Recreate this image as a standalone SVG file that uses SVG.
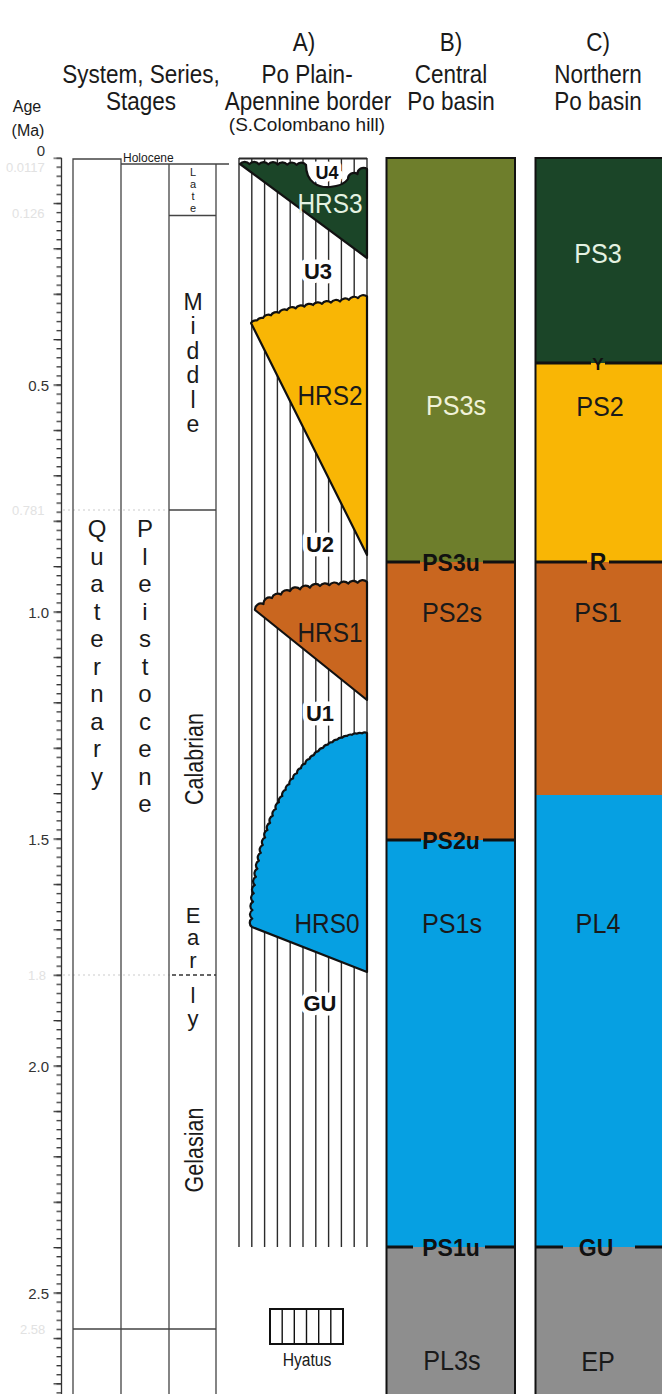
<svg xmlns="http://www.w3.org/2000/svg" width="662" height="1394" viewBox="0 0 662 1394">
<style>
text { font-family: 'Liberation Sans',Arial,sans-serif; fill:#1a1a1a; }
.hd { font-size:25px; text-anchor:middle; }
.ax { font-size:15px; fill:#333; text-anchor:end; }
.faint { font-size:13px; fill:#e2e2e2; }
.stk { font-size:24px; text-anchor:middle; }
.big { font-size:28px; text-anchor:middle; }
.lt { fill:#e4f2e2; }
.ul { font-size:22px; font-weight:bold; text-anchor:middle; fill:#111; paint-order:stroke; stroke:#fff; stroke-width:9px; stroke-linejoin:round; }
.bl { font-size:23px; font-weight:bold; text-anchor:middle; fill:#111; }
.cl { fill:none; stroke:#444; stroke-width:1.3; }
.hat { stroke:#2b2b2b; stroke-width:1.4; }
.unit { stroke:#111; stroke-width:2.2; stroke-linejoin:round; }
.bd { stroke:#111; stroke-width:3; }
.box { fill:none; stroke:#111; stroke-width:2; }
</style>
<defs>
<pattern id="tkm" x="0" y="157.4" width="20" height="9.08" patternUnits="userSpaceOnUse"><rect x="0" y="0" width="20" height="1.3" fill="#333"/></pattern>
<pattern id="tkM" x="0" y="157.4" width="20" height="45.4" patternUnits="userSpaceOnUse"><rect x="0" y="0" width="20" height="1.3" fill="#333"/></pattern>
</defs>
<rect width="662" height="1394" fill="#fff"/>

<g id="headers">
<text class="hd" transform="translate(304,51) scale(0.9,1)">A)</text>
<text class="hd" transform="translate(451,51) scale(0.9,1)">B)</text>
<text class="hd" transform="translate(598,51) scale(0.9,1)">C)</text>
<text class="hd" transform="translate(141,83) scale(0.9,1)">System, Series,</text>
<text class="hd" transform="translate(141,110) scale(0.9,1)">Stages</text>
<text class="hd" transform="translate(307,83) scale(0.9,1)">Po Plain-</text>
<text class="hd" transform="translate(308,110) scale(0.9,1)">Apennine border</text>
<text x="307" y="131" style="font-size:19px;text-anchor:middle">(S.Colombano hill)</text>
<text class="hd" transform="translate(451,83) scale(0.9,1)">Central</text>
<text class="hd" transform="translate(451,110) scale(0.9,1)">Po basin</text>
<text class="hd" transform="translate(598,83) scale(0.9,1)">Northern</text>
<text class="hd" transform="translate(598,110) scale(0.9,1)">Po basin</text>
<text x="27" y="112" style="font-size:16px;text-anchor:middle">Age</text>
<text x="28" y="136" style="font-size:16px;text-anchor:middle">(Ma)</text>
</g>

<g id="age-axis">
<line x1="61.5" y1="158" x2="61.5" y2="1394" stroke="#333" stroke-width="1.3"/>
<rect x="56.5" y="157.4" width="5" height="1237" fill="url(#tkm)"/>
<rect x="53.5" y="157.4" width="8" height="1237" fill="url(#tkM)"/>
<text class="ax" x="45" y="156">0</text>
<text class="ax" x="49" y="391">0.5</text>
<text class="ax" x="49" y="618">1.0</text>
<text class="ax" x="49" y="845">1.5</text>
<text class="ax" x="49" y="1072">2.0</text>
<text class="ax" x="49" y="1299">2.5</text>
<text class="faint" x="6" y="172">0.0117</text>
<text class="faint" x="12" y="218">0.126</text>
<text class="faint" x="12" y="515">0.781</text>
<text class="faint" x="28" y="980">1.8</text>
<text class="faint" x="20" y="1334">2.58</text>
<line x1="63" y1="510" x2="168" y2="510" stroke="#ddd" stroke-width="1.3" stroke-dasharray="2 3"/>
<line x1="63" y1="975" x2="170" y2="975" stroke="#ddd" stroke-width="1.3" stroke-dasharray="2 3"/>
</g>

<g id="chronostratigraphy">
<path class="cl" d="M73,1394 V159 H121 V1394 M121,164 H229 M169,164 V1394 M216,164 V1394 M169,215.5 H216 M169,510 H216 M73,1329 H216"/>
<line x1="172" y1="975" x2="216" y2="975" stroke="#333" stroke-width="1.3" stroke-dasharray="4 3"/>
<text x="123" y="162" style="font-size:12px">Holocene</text>
<text style="font-size:11px;text-anchor:middle"><tspan x="193" y="176">L</tspan><tspan x="193" y="188">a</tspan><tspan x="193" y="200">t</tspan><tspan x="193" y="212">e</tspan></text>
<text style="font-size:23px;text-anchor:middle"><tspan x="193" y="310">M</tspan><tspan x="193" y="334">i</tspan><tspan x="193" y="359">d</tspan><tspan x="193" y="383">d</tspan><tspan x="193" y="408">l</tspan><tspan x="193" y="432">e</tspan></text>
<text style="font-size:22px;text-anchor:middle"><tspan x="193" y="923">E</tspan><tspan x="193" y="945">a</tspan><tspan x="193" y="968">r</tspan><tspan x="193" y="1003">l</tspan><tspan x="193" y="1026">y</tspan></text>
<text transform="translate(203,759) rotate(-90) scale(0.86,1)" style="font-size:25px;text-anchor:middle">Calabrian</text>
<text transform="translate(203,1150) rotate(-90) scale(0.86,1)" style="font-size:25px;text-anchor:middle">Gelasian</text>
<text class="stk"><tspan x="97" y="537">Q</tspan><tspan x="97" y="564.5">u</tspan><tspan x="97" y="592">a</tspan><tspan x="97" y="619.5">t</tspan><tspan x="97" y="647">e</tspan><tspan x="97" y="674.5">r</tspan><tspan x="97" y="702">n</tspan><tspan x="97" y="729.5">a</tspan><tspan x="97" y="757">r</tspan><tspan x="97" y="784.5">y</tspan></text>
<text class="stk"><tspan x="145" y="537">P</tspan><tspan x="145" y="564.5">l</tspan><tspan x="145" y="592">e</tspan><tspan x="145" y="619.5">i</tspan><tspan x="145" y="647">s</tspan><tspan x="145" y="674.5">t</tspan><tspan x="145" y="702">o</tspan><tspan x="145" y="729.5">c</tspan><tspan x="145" y="757">e</tspan><tspan x="145" y="784.5">n</tspan><tspan x="145" y="812">e</tspan></text>
</g>

<g id="column-A">
<g class="hat">
<line x1="239" y1="158" x2="239" y2="1247"/>
<line x1="251.8" y1="158" x2="251.8" y2="1247"/>
<line x1="264.6" y1="158" x2="264.6" y2="1247"/>
<line x1="277.4" y1="158" x2="277.4" y2="1247"/>
<line x1="290.2" y1="158" x2="290.2" y2="1247"/>
<line x1="303" y1="158" x2="303" y2="1247"/>
<line x1="315.8" y1="158" x2="315.8" y2="1247"/>
<line x1="328.6" y1="158" x2="328.6" y2="1247"/>
<line x1="341.4" y1="158" x2="341.4" y2="1247"/>
<line x1="354.2" y1="158" x2="354.2" y2="1247"/>
<line x1="367" y1="158" x2="367" y2="1247"/>
<line x1="239" y1="158.5" x2="367" y2="158.5" stroke-width="2"/>
</g>
<g id="HRS3">
<path class="unit" fill="#1b4528" d="M240,164 a6,6 0 0 1 9.43,0.14 a6,6 0 0 1 9.43,0.14 a6,6 0 0 1 9.43,0.14 a6,6 0 0 1 9.43,0.14 a6,6 0 0 1 9.43,0.14 a6,6 0 0 1 9.43,0.14 a6,6 0 0 1 9.43,0.14 C306,182 318,188 330,187 C341,186 346,182 348,179 a6,6 0 0 1 9.5,-5 a6,6 0 0 1 9.5,-5 L367,258 Z"/>
<text class="big lt" transform="translate(330,213) scale(0.87,1)">HRS3</text>
</g>
<g id="HRS2">
<path class="unit" fill="#f9b605" d="M251,323 a6,6 0 0 1 6,-2.5 a6,6 0 0 1 6,-2.5 a6,6 0 0 1 8,-2.67 a6,6 0 0 1 8,-2.67 a6,6 0 0 1 8,-2.67 a6,6 0 0 1 8.67,-1.67 a6,6 0 0 1 8.67,-1.67 a6,6 0 0 1 8.67,-1.67 a6,6 0 0 1 9,-1.17 a6,6 0 0 1 9,-1.17 a6,6 0 0 1 9,-1.17 a6,6 0 0 1 9,-1.67 a6,6 0 0 1 9,-1.67 a6,6 0 0 1 9,-1.67 L367,555 Z"/>
<text class="big" transform="translate(330,405) scale(0.87,1)">HRS2</text>
</g>
<g id="HRS1">
<path class="unit" fill="#c9661f" d="M255,610 a6,6 0 0 1 8.5,-6 a6,6 0 0 1 8.5,-6 a6,6 0 0 1 9,-3.5 a6,6 0 0 1 9,-3.5 a6,6 0 0 1 10,-1.67 a6,6 0 0 1 10,-1.67 a6,6 0 0 1 10,-1.67 a6,6 0 0 1 9.4,-0.8 a6,6 0 0 1 9.4,-0.8 a6,6 0 0 1 9.4,-0.8 a6,6 0 0 1 9.4,-0.8 a6,6 0 0 1 9.4,-0.8 L367,700 Z"/>
<text class="big" transform="translate(330,642) scale(0.87,1)">HRS1</text>
</g>
<g id="HRS0">
<path class="unit" fill="#06a0e2" d="M252,927 a5,5 0 0 1 0.2,-8.45 a5,5 0 0 1 0.2,-8.45 a5,5 0 0 1 0.65,-8.4 a5,5 0 0 1 0.65,-8.4 a5,5 0 0 1 1.1,-8.25 a5,5 0 0 1 1.1,-8.25 a5,5 0 0 1 1.5,-8.05 a5,5 0 0 1 1.5,-8.05 a5,5 0 0 1 1.95,-7.85 a5,5 0 0 1 1.95,-7.85 a5,5 0 0 1 2.3,-7.5 a5,5 0 0 1 2.3,-7.5 a5,5 0 0 1 2.7,-7.15 a5,5 0 0 1 2.7,-7.15 a5,5 0 0 1 3.05,-6.7 a5,5 0 0 1 3.05,-6.7 a5,5 0 0 1 3.4,-6.25 a5,5 0 0 1 3.4,-6.25 a5,5 0 0 1 3.7,-5.7 a5,5 0 0 1 3.7,-5.7 a5,5 0 0 1 3.95,-5.15 a5,5 0 0 1 3.95,-5.15 a5,5 0 0 1 4.25,-4.55 a5,5 0 0 1 4.25,-4.55 a5,5 0 0 1 4.45,-3.9 a5,5 0 0 1 4.45,-3.9 a5,5 0 0 1 4.65,-3.25 a5,5 0 0 1 4.65,-3.25 a5,5 0 0 1 4.75,-2.55 a5,5 0 0 1 4.75,-2.55 a5,5 0 0 1 4.9,-1.85 a5,5 0 0 1 4.9,-1.85 a5,5 0 0 1 5,-1.1 a5,5 0 0 1 5,-1.1 a5,5 0 0 1 5,-0.35 a5,5 0 0 1 5,-0.35 L367,972 Z"/>
<text class="big" transform="translate(327,933) scale(0.87,1)">HRS0</text>
</g>
<text class="ul" x="327" y="179" style="font-size:18px">U4</text>
<text class="ul" x="318" y="279">U3</text>
<text class="ul" x="320" y="552">U2</text>
<text class="ul" x="320" y="721">U1</text>
<text class="ul" x="320" y="1011">GU</text>
</g>

<g id="legend-hyatus">
<rect class="box" x="270" y="1309" width="73" height="35" stroke-width="1.6"/>
<path d="M282.2,1309 V1344 M294.3,1309 V1344 M306.5,1309 V1344 M318.7,1309 V1344 M330.8,1309 V1344" stroke="#111" stroke-width="1.4"/>
<text transform="translate(307,1366) scale(0.87,1)" style="font-size:18px;text-anchor:middle">Hyatus</text>
</g>

<g id="column-B">
<rect x="386.5" y="158" width="128.5" height="404" fill="#6e7e2c"/>
<rect x="386.5" y="562" width="128.5" height="278" fill="#c9661f"/>
<rect x="386.5" y="840" width="128.5" height="407" fill="#06a0e2"/>
<rect x="386.5" y="1247" width="128.5" height="150" fill="#8e8e8e"/>
<rect class="box" x="386.5" y="158" width="128.5" height="1250"/>
<text class="big" transform="translate(456,415) scale(0.9,1)" style="fill:#f0f2d8">PS3s</text>
<text class="big" transform="translate(452,622) scale(0.9,1)">PS2s</text>
<text class="big" transform="translate(452,933) scale(0.9,1)">PS1s</text>
<text class="big" transform="translate(452,1370) scale(0.9,1)">PL3s</text>
</g>

<g id="column-C">
<rect x="535.5" y="158" width="130" height="205" fill="#1b4528"/>
<rect x="535.5" y="363" width="130" height="199" fill="#f9b605"/>
<rect x="535.5" y="562" width="130" height="233" fill="#c9661f"/>
<rect x="535.5" y="795" width="130" height="452" fill="#06a0e2"/>
<rect x="535.5" y="1247" width="130" height="150" fill="#8e8e8e"/>
<rect class="box" x="535.5" y="158" width="130" height="1250"/>
<text class="big lt" transform="translate(598,263) scale(0.9,1)">PS3</text>
<text class="big" transform="translate(600,416) scale(0.9,1)">PS2</text>
<text class="big" transform="translate(598,622) scale(0.9,1)">PS1</text>
<text class="big" transform="translate(598,933) scale(0.9,1)">PL4</text>
<text class="big" transform="translate(598,1371) scale(0.9,1)">EP</text>
</g>

<g id="connectors">
<path class="bd" d="M386.5,562 H420 M483,562 H515 M386.5,840 H421 M483,840 H515 M386.5,1247 H413 M485,1247 H515 M535.5,363 H591 M605,363 H662 M535.5,562 H587 M609,562 H662 M535.5,1247 H563 M635,1247 H662"/>
<text class="bl" x="451" y="570.5">PS3u</text>
<text class="bl" x="451" y="848.5">PS2u</text>
<text class="bl" x="451" y="1255.5">PS1u</text>
<text class="bl" x="598" y="370" style="font-size:17px">Y</text>
<text class="bl" x="598" y="570">R</text>
<text class="bl" x="596" y="1255.5">GU</text>
</g>
</svg>
